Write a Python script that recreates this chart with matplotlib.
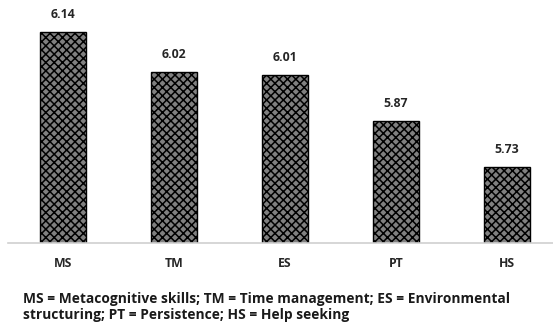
import numpy as np
import matplotlib
matplotlib.use('Agg')
import matplotlib.pyplot as plt

plt.rcParams.update({
    'font.family': ['Open Sans', 'DejaVu Sans'],
    'hatch.linewidth': 1.1,
})

categories = ['MS', 'TM', 'ES', 'PT', 'HS']
means = [6.14, 6.02, 6.01, 5.87, 5.73]
footnote = ('MS = Metacognitive skills; TM = Time management; ES = Environmental\n'
            'structuring; PT = Persistence; HS = Help seeking')

fig = plt.figure(figsize=(5.53, 3.25), dpi=100)
ax = fig.add_axes([7.5 / 553, 82 / 325, 555 / 553, 0.7086])

x = np.arange(len(categories))
bars = ax.bar(x, means, width=0.415, bottom=0, color='#808080',
              edgecolor='black', linewidth=1.0, hatch='xxxx')

for xi, v in zip(x, means):
    ax.annotate(f'{v:.2f}', (xi, v), xytext=(0, 8), textcoords='offset points',
                ha='center', va='bottom', fontsize=8.8, fontweight='bold',
                color='#262626')

ax.set_ylim(5.5, 6.2)
ax.set_xlim(-0.5, len(categories) - 0.5)
ax.set_xticks(x)
ax.set_xticklabels(categories, fontsize=8.8, fontweight='bold', color='#262626')
ax.tick_params(axis='x', length=0, pad=10)
ax.set_yticks([])
for s in ['top', 'left', 'right']:
    ax.spines[s].set_visible(False)
ax.spines['bottom'].set_color('#d0d0d0')
ax.spines['bottom'].set_linewidth(1.2)

fig.text(23 / 553, 1 - 292 / 325, footnote, ha='left', va='top',
         fontsize=9.95, fontweight='bold', color='#1a1a1a', linespacing=1.2)

fig.savefig('out.png', dpi=100)
